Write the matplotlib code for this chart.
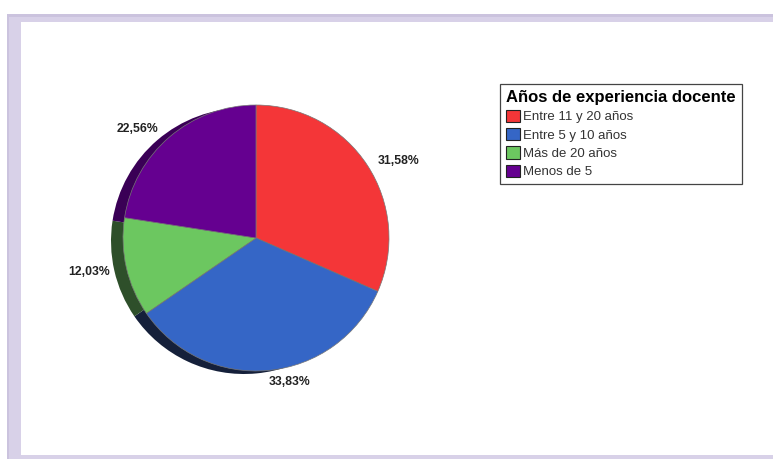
import numpy as np
import matplotlib.pyplot as plt
from matplotlib.patches import Rectangle, Patch

categorias = ["Entre 11 y 20 años", "Entre 5 y 10 años", "Más de 20 años", "Menos de 5"]
docentes = [42, 45, 16, 30]
titulo = "Años de experiencia docente"

colores = ["#f43638", "#3566c6", "#6cc760", "#650090"]
sombras = ["#7a1b1c", "#15203a", "#2e4f2a", "#3a0056"]
# posición de las etiquetas: radio relativo y giro (grados) respecto al centro de cada sector
dist_etiqueta = [1.22, 1.11, 1.28, 1.21]
giro_etiqueta = [-4.9, 7.9, -1.3, 6.7]

plt.rcParams['font.family'] = ['Liberation Sans', 'DejaVu Sans']

fig = plt.figure(figsize=(7.73, 4.59), dpi=100)
ax = fig.add_axes([0, 0, 1, 1])

# marco lila
ax.add_patch(Rectangle((7, 0), 766, 445, facecolor="#cbc3de", edgecolor="none", zorder=0))
ax.add_patch(Rectangle((9, 0), 764, 442, facecolor="#d8d1e8", edgecolor="none", zorder=0))
ax.add_patch(Rectangle((21, 4), 752, 433, facecolor="white", edgecolor="none", zorder=0))

cx, cy, r = 256, 221, 133

# sombra
ax.pie(docentes, colors=sombras, startangle=90, counterclock=False,
       center=(cx - 12, cy - 3), radius=r, frame=True,
       wedgeprops=dict(linewidth=0, zorder=1))

wedges, _ = ax.pie(docentes, colors=colores, startangle=90, counterclock=False,
                   center=(cx, cy), radius=r, frame=True,
                   wedgeprops=dict(linewidth=0.5, edgecolor="#777777", zorder=2))
ax.set_xlim(0, 773)
ax.set_ylim(0, 459)
ax.set_aspect('equal')
ax.axis('off')

total = sum(docentes)
for w, v, d, g in zip(wedges, docentes, dist_etiqueta, giro_etiqueta):
    ang = np.deg2rad((w.theta1 + w.theta2) / 2 + g)
    pct = f"{100 * v / total:.2f}%".replace(".", ",")
    ax.text(cx + d * r * np.cos(ang), cy + d * r * np.sin(ang), pct,
            ha="center", va="center", fontsize=8.8, fontweight="bold", color="#222222", zorder=3)

handles = [Patch(facecolor=c, edgecolor="#222222", linewidth=0.8) for c in colores]
leg = fig.legend(handles, categorias, title=titulo, loc="upper left",
                 bbox_to_anchor=(500 / 773, 1 - 84 / 459), fancybox=False,
                 edgecolor="#444444", framealpha=1, fontsize=9.5,
                 title_fontproperties=dict(size=12, weight="bold"),
                 alignment="left", handlelength=1.05, handleheight=1.05,
                 handletextpad=0.25, labelspacing=0.36, borderpad=0.45,
                 borderaxespad=0)
for t in leg.get_texts():
    t.set_color("#333333")
leg.get_frame().set_linewidth(0.9)
leg.set_zorder(5)

fig.savefig("out.png", dpi=100)
